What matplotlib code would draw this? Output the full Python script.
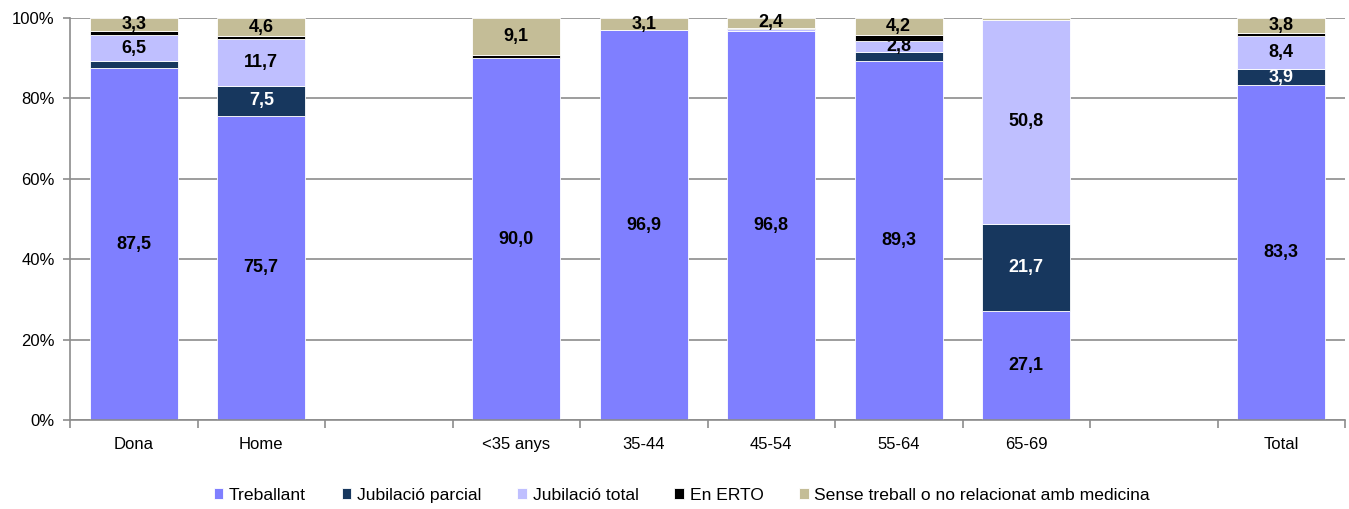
import matplotlib
matplotlib.use("Agg")
import matplotlib.pyplot as plt
import numpy as np

plt.rcParams["font.family"] = ["Liberation Sans", "DejaVu Sans"]

# categories (blank slots keep the gaps between groups)
categories = ["Dona", "Home", "", "<35 anys", "35-44", "45-54", "55-64", "65-69", "", "Total"]
series = ["Treballant", "Jubilació parcial", "Jubilació total", "En ERTO",
          "Sense treball o no relacionat amb medicina"]

treballant = [87.5, 75.7, 0, 90.0, 96.9, 96.8, 89.3, 27.1, 0, 83.3]
jub_parcial = [1.7, 7.5, 0, 0.0, 0.0, 0.0, 2.2, 21.7, 0, 3.9]
jub_total = [6.5, 11.7, 0, 0.0, 0.0, 0.4, 2.8, 50.8, 0, 8.4]
erto = [1.0, 0.5, 0, 0.9, 0.0, 0.4, 1.5, 0.0, 0, 0.6]
sense = [3.3, 4.6, 0, 9.1, 3.1, 2.4, 4.2, 0.4, 0, 3.8]

colors = ["#7F7FFF", "#17375E", "#BFBFFF", "#000000", "#C4BD97"]
label_colors = ["black", "white", "black", "black", "black"]

data = [treballant, jub_parcial, jub_total, erto, sense]

fig = plt.figure(figsize=(13.49, 5.09), dpi=100)
ax = fig.add_axes([70 / 1349, 1 - 420 / 509, 1275 / 1349, 402 / 509])

x = np.arange(len(categories))
bottom = np.zeros(len(categories))
for vals, col, lc, name in zip(data, colors, label_colors, series):
    vals = np.array(vals, dtype=float)
    ax.bar(x, vals, 0.69, bottom=bottom, color=col, edgecolor="white",
           linewidth=0.6, label=name)
    # only segments big enough get a value label
    for xi, v, b in zip(x, vals, bottom):
        if v >= 2.4:
            ax.text(xi, b + v / 2, f"{v:.1f}".replace(".", ","), ha="center",
                    va="center", fontsize=13, fontweight="bold", color=lc)
    bottom += vals

ax.set_xlim(-0.5, len(categories) - 0.5)
ax.set_ylim(0, 100)
ax.set_yticks(range(0, 101, 20))
ax.set_yticklabels([f"{v}%" for v in range(0, 101, 20)], fontsize=12)
ax.yaxis.grid(True, color="#8C8C8C", linewidth=1.2)
ax.set_axisbelow(True)

ax.set_xticks(x)
ax.set_xticklabels(categories, fontsize=12)
ax.tick_params(axis="x", length=0, pad=12)
ax.set_xticks(np.arange(-0.5, len(categories)), minor=True)
ax.tick_params(axis="x", which="minor", length=6, color="#8C8C8C", width=1.2)
ax.tick_params(axis="y", length=5, color="#8C8C8C", width=1.2, pad=6)

for s in ["top", "right"]:
    ax.spines[s].set_visible(False)
for s in ["left", "bottom"]:
    ax.spines[s].set_color("#8C8C8C")
    ax.spines[s].set_linewidth(1.2)

ax.legend(loc="lower center", bbox_to_anchor=(0.48, -0.245), ncol=5, frameon=False,
          fontsize=12.6, handlelength=0.52, handleheight=0.52, handletextpad=0.34,
          columnspacing=2.06)

fig.savefig("out.png", dpi=100)
